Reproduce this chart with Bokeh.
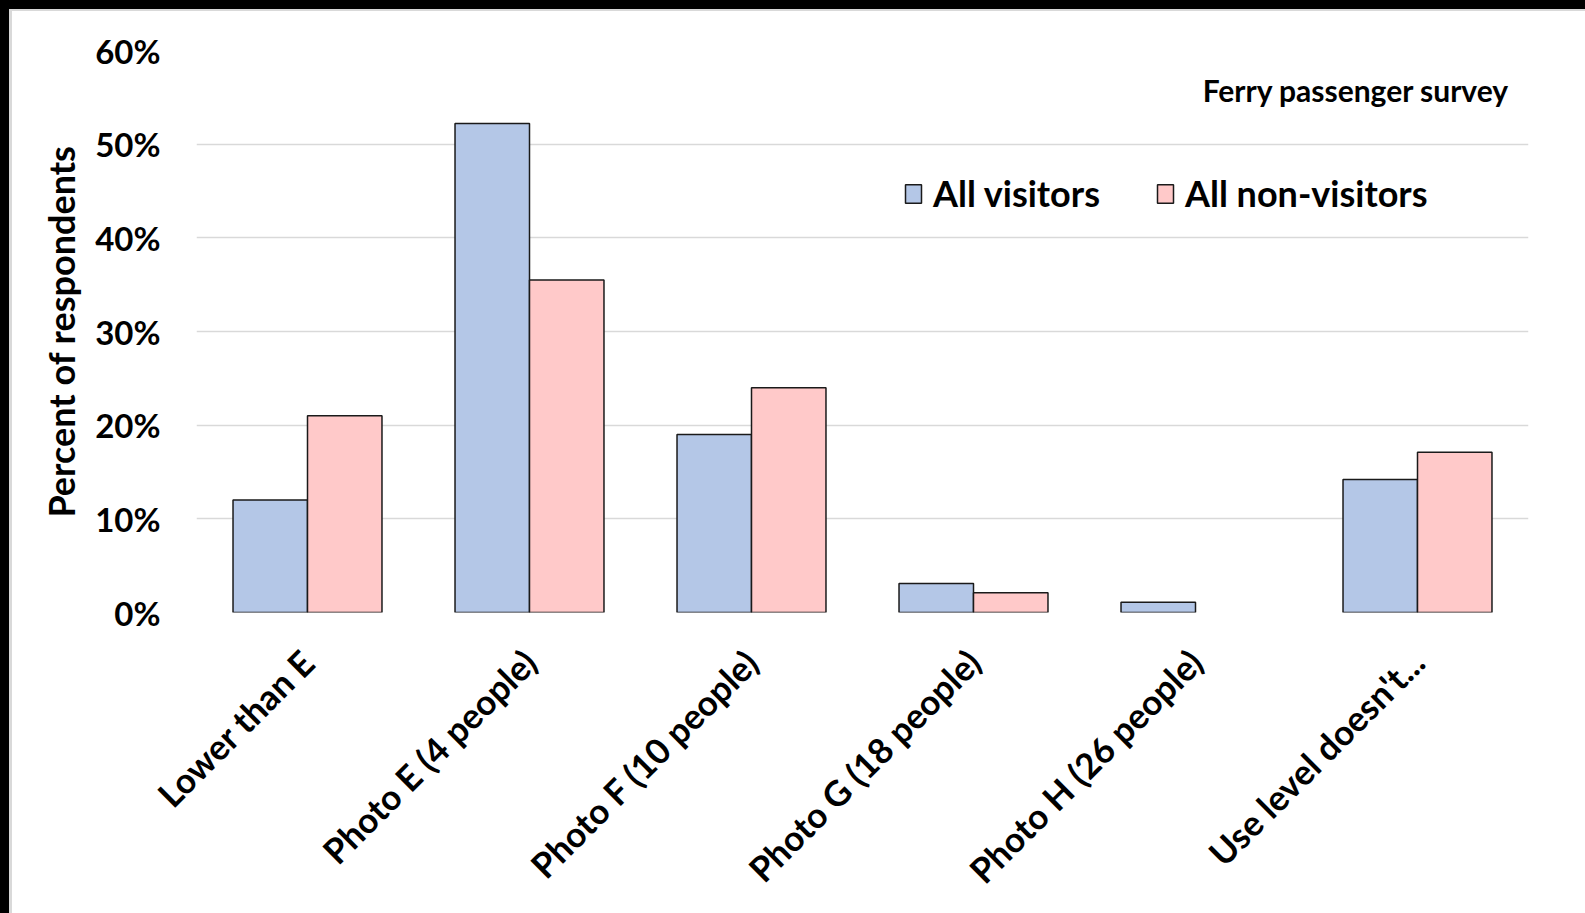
import math
from bokeh.plotting import figure
from bokeh.models import FactorRange, Range1d, FixedTicker, PrintfTickFormatter, Label, ColumnDataSource
from bokeh.transform import dodge
from bokeh.embed import file_html
from bokeh.resources import INLINE

categories = ["Lower than E", "Photo E (4 people)", "Photo F (10 people)",
              "Photo G (18 people)", "Photo H (26 people)", "Use level doesn't..."]
visitors = [12.0, 52.2, 19.0, 3.1, 1.1, 14.2]
non_visitors = [21.0, 35.5, 24.0, 2.1, 0.0, 17.1]
y_ticks = [0, 10, 20, 30, 40, 50, 60]

FONT = "Lato"
OUTLINE = "#1a1a1a"

src = ColumnDataSource(dict(
    cat=categories, vis=visitors, non=non_visitors,
    vis_line=[OUTLINE if v > 0 else None for v in visitors],
    non_line=[OUTLINE if v > 0 else None for v in non_visitors],
))

p = figure(x_range=FactorRange(*categories), y_range=Range1d(0, 60),
           frame_width=1332, frame_height=562,
           min_border_left=184, min_border_top=39, min_border_right=57, min_border_bottom=301,
           output_backend="svg", toolbar_location=None,
           styles={"margin-left": "9px", "margin-top": "9px",
                   "border-left": "3px solid #d9d9d9", "border-top": "2px solid #d9d9d9",
                   "box-shadow": "-9px 0 0 0 black, 0 -9px 0 0 black, -9px -9px 0 0 black"})

bw = 0.3355
p.vbar(x=dodge("cat", -bw / 2, range=p.x_range), top="vis", width=bw, source=src,
       fill_color="#B4C7E7", line_color="vis_line", line_width=1.5, legend_label="All visitors")
p.vbar(x=dodge("cat", bw / 2, range=p.x_range), top="non", width=bw, source=src,
       fill_color="#FFC9C9", line_color="non_line", line_width=1.5, legend_label="All non-visitors")

p.outline_line_color = None
p.xgrid.grid_line_color = None
p.ygrid.grid_line_color = "#D9D9D9"
p.ygrid.grid_line_width = 1.5

for ax in (p.xaxis[0], p.yaxis[0]):
    ax.axis_line_color = None
    ax.major_tick_line_color = None
    ax.minor_tick_line_color = None
    ax.major_label_text_font = FONT
    ax.major_label_text_font_style = "bold"
    ax.major_label_text_color = "black"

p.xaxis.major_label_text_font_size = "35px"
p.yaxis.major_label_text_font_size = "33px"
p.xaxis.major_label_orientation = math.pi / 4
p.xaxis.major_label_standoff = 37

p.yaxis.ticker = FixedTicker(ticks=y_ticks)
p.yaxis.formatter = PrintfTickFormatter(format="%d%%")
p.yaxis.major_label_standoff = 30
p.yaxis.axis_label = "Percent of respondents"
p.yaxis.axis_label_text_font = FONT
p.yaxis.axis_label_text_font_style = "bold"
p.yaxis.axis_label_text_font_size = "36px"
p.yaxis.axis_label_text_color = "black"
p.yaxis.axis_label_standoff = 9

lg = p.legend[0]
lg.location = (707, 397)
lg.orientation = "horizontal"
lg.border_line_color = None
lg.background_fill_alpha = 0
lg.label_text_font = FONT
lg.label_text_font_style = "bold"
lg.label_text_font_size = "36px"
lg.label_text_color = "black"
lg.glyph_width = 20
lg.glyph_height = 23
lg.label_standoff = 10
lg.spacing = 55
lg.padding = 0
lg.margin = 0

p.add_layout(Label(x=1313, y=523, x_units="screen", y_units="screen",
                   text="Ferry passenger survey", text_align="right", text_baseline="middle",
                   text_font=FONT, text_font_style="bold", text_font_size="30px",
                   text_color="black"))

open("out.html", "w").write(file_html(p, INLINE))
